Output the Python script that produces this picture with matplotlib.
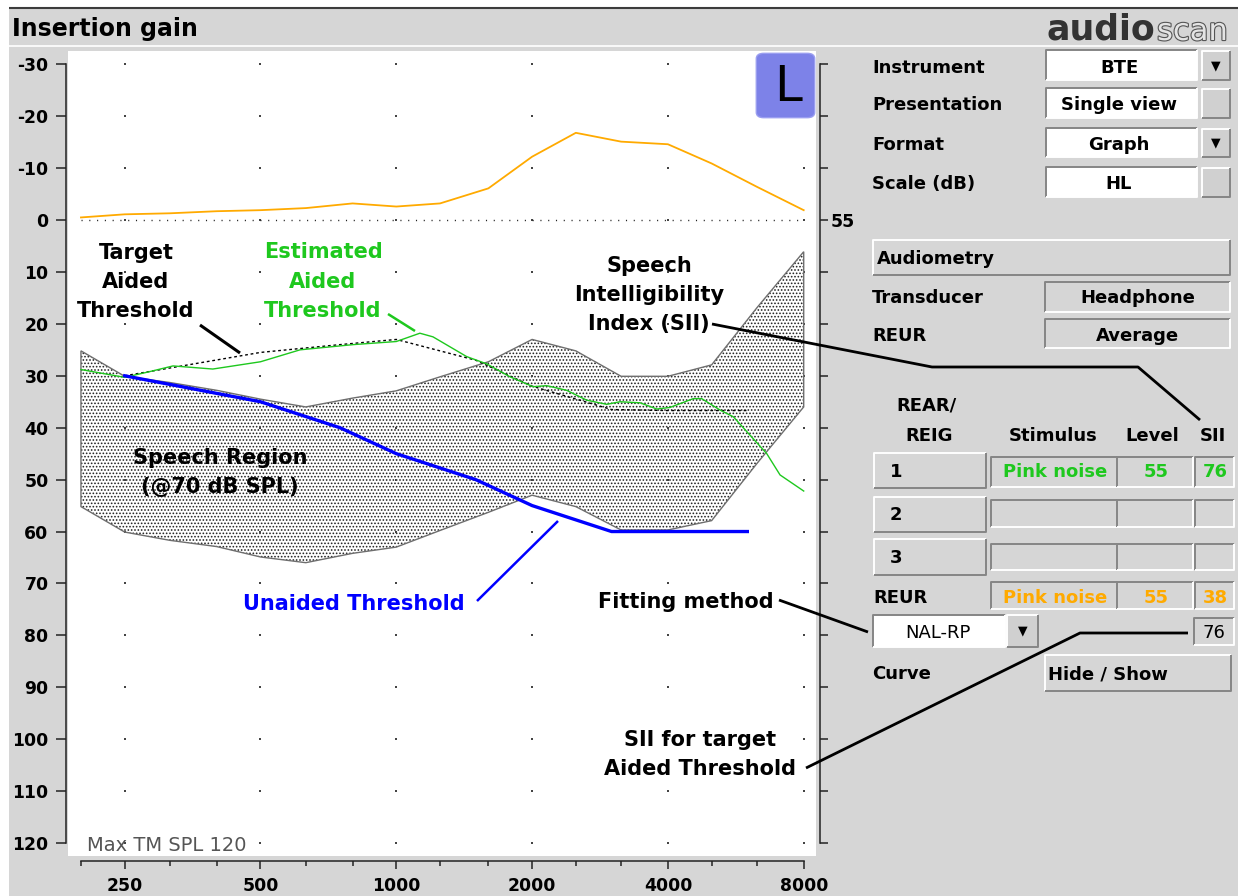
import numpy as np
import matplotlib
matplotlib.use('Agg')
import matplotlib.pyplot as plt
from matplotlib.patches import Rectangle, FancyBboxPatch
from matplotlib.lines import Line2D
from matplotlib.ticker import FixedLocator, FixedFormatter, NullFormatter
import matplotlib.patheffects as pe

plt.rcParams['font.family'] = ['DejaVu Sans']
plt.rcParams['hatch.linewidth'] = 0.75

# ---------------- data ----------------
third_oct_hz = [200, 250, 315, 400, 500, 630, 800, 1000, 1250, 1600, 2000,
                2500, 3150, 4000, 5000, 6300, 8000]
reur_db = [-0.5, -1.1, -1.3, -1.7, -1.9, -2.3, -3.2, -2.6, -3.2, -6.1, -12.2,
           -16.8, -15.1, -14.6, -10.9, -6.4, -1.9]
speech_upper_db = [25.2, 30.1, 31.3, 32.8, 34.5, 36.0, 34.3, 32.9, 30.2, 27.3,
                   23.0, 25.2, 30.1, 30.1, 27.9, 16.9, 6.1]
speech_lower_db = [55.2, 60.1, 61.7, 62.9, 64.9, 66.0, 64.2, 63.0, 59.8, 56.3,
                   53.0, 55.2, 59.7, 59.7, 57.9, 46.9, 36.0]

audiogram_hz = [250, 500, 750, 1000, 1500, 2000, 3000, 4000, 6000]
unaided_db = [30, 35, 40, 45, 50, 55, 60, 60, 60]
target_aided_db = [30, 25.5, 24, 23, 27, 32, 36.5, 36.7, 36.7]

est_hz = [200, 250, 284, 320, 392, 500, 612, 802, 1000, 1128, 1206, 1432, 1586,
          1787, 2010, 2154, 2386, 2643, 2927, 3132, 3470, 3779, 4042, 4553,
          4753, 5220, 5587, 6625, 7090, 8000]
est_db = [28.8, 30.3, 29.2, 28.1, 28.7, 27.3, 25.0, 24.0, 23.4, 21.8, 22.5,
          26.3, 27.7, 30.2, 32.1, 31.9, 32.8, 34.7, 35.5, 35.0, 35.2, 36.4,
          36.1, 34.4, 34.4, 36.6, 37.9, 45.0, 49.1, 52.2]

major_hz = [250, 500, 1000, 2000, 4000, 8000]
major_labels = ['250', '500', '1000', '2000', '4000', '8000']
minor_hz = [200, 315, 400, 630, 800, 1250, 1600, 2500, 3150, 5000, 6300]
db_ticks = list(range(-30, 130, 10))
right_label = {0: '55'}

# ---------------- figure ----------------
W, H = 1238, 896
BG = '#d6d6d6'
fig = plt.figure(figsize=(W / 100, H / 100), dpi=100, facecolor=BG)


def fx(x):
    return x / W


def fy(y):
    return 1 - y / H


def seg(pts, color='black', lw=1.0, z=6, ls='-'):
    xs = [fx(p[0]) for p in pts]
    ys = [fy(p[1]) for p in pts]
    fig.add_artist(Line2D(xs, ys, transform=fig.transFigure, color=color,
                          lw=lw, zorder=z, ls=ls, solid_capstyle='butt'))


def rect(x0, y0, x1, y1, fc, z=1):
    fig.add_artist(Rectangle((fx(x0), fy(y1)), (x1 - x0) / W, (y1 - y0) / H,
                             transform=fig.transFigure, fc=fc, ec='none',
                             zorder=z))


def box(x0, y0, x1, y1, fc, kind='sunken'):
    rect(x0, y0, x1, y1, fc)
    dark, light = '#858585', '#ffffff'
    tl, br = (dark, light) if kind == 'sunken' else (light, dark)
    seg([(x0, y1), (x0, y0), (x1, y0)], tl, 1.4, 2)
    seg([(x1, y0), (x1, y1), (x0, y1)], br, 1.4, 2)


def txt(x, y, s, size=13, weight='bold', color='black', ha='left', **kw):
    fig.text(fx(x), fy(y), s, fontsize=size, fontweight=weight, color=color,
             ha=ha, va='baseline', **kw)


# white margins and title bar
rect(0, 0, W, 8, 'white', z=-2)
rect(0, 0, 9, H, 'white', z=-2)
seg([(9, 8.5), (W, 8.5)], '#3c3c3c', 1.5, -1)
seg([(9, 46), (W, 46)], 'white', 1.2, -1)
txt(12, 36, 'Insertion gain', size=17)

# ---------------- main axes ----------------
ax = fig.add_axes([fx(68), fy(856), (816 - 68) / W, (856 - 51) / H])
ax.set_facecolor('white')
ax.set_xscale('log')
ax.set_xlim(187.2, 8518)
ax.set_ylim(122.5, -32.56)
for s in ['top', 'right']:
    ax.spines[s].set_visible(False)
for s in ['left', 'bottom']:
    ax.spines[s].set_color('#222222')
    ax.spines[s].set_linewidth(1.1)
ax.spines['left'].set_position(('outward', 1.8))
ax.spines['left'].set_bounds(-30, 120)
ax.spines['bottom'].set_position(('outward', 3.6))
ax.spines['bottom'].set_bounds(200, 8000)

ax.yaxis.set_major_locator(FixedLocator(db_ticks))
ax.yaxis.set_major_formatter(FixedFormatter([str(v) for v in db_ticks]))
ax.tick_params(axis='y', direction='out', length=7.2, width=1.1, pad=5,
               labelsize=12.4, color='#222222')
ax.xaxis.set_major_locator(FixedLocator(major_hz))
ax.xaxis.set_major_formatter(FixedFormatter(major_labels))
ax.xaxis.set_minor_locator(FixedLocator(minor_hz))
ax.xaxis.set_minor_formatter(NullFormatter())
ax.tick_params(axis='x', which='major', direction='out', length=5.8, width=1.1,
               pad=5.4, labelsize=12.4, color='#222222')
ax.tick_params(axis='x', which='minor', direction='out', length=3.6, width=1.1,
               color='#222222')
for lab in ax.get_xticklabels() + ax.get_yticklabels():
    lab.set_fontweight('bold')

axr = ax.twinx()
axr.set_ylim(ax.get_ylim())
axr.patch.set_visible(False)
for s in ['top', 'left', 'bottom']:
    axr.spines[s].set_visible(False)
axr.spines['right'].set_position(('outward', 2.9))
axr.spines['right'].set_bounds(-30, 120)
axr.spines['right'].set_color('#222222')
axr.spines['right'].set_linewidth(1.1)
axr.yaxis.set_major_locator(FixedLocator(db_ticks))
axr.yaxis.set_major_formatter(
    FixedFormatter([right_label.get(v, '') for v in db_ticks]))
axr.tick_params(axis='y', direction='out', length=5.8, width=1.1, pad=1.5,
                labelsize=12.4, color='#222222')
for lab in axr.get_yticklabels():
    lab.set_fontweight('bold')

# grid dots
gx, gy = np.meshgrid(major_hz, db_ticks)
ax.scatter(gx.ravel(), gy.ravel(), s=1.0, c='#444444', marker='s', lw=0,
           zorder=1.5)
# dotted 0 dB line
ax.plot([third_oct_hz[0], third_oct_hz[-1]], [0, 0], color='#222222', lw=1.0,
        ls=(0, (0.8, 4.8)), zorder=1.5)

# speech region
poly_x = third_oct_hz + third_oct_hz[::-1]
poly_y = speech_upper_db + speech_lower_db[::-1]
ax.fill(poly_x, poly_y, facecolor='white', edgecolor='#202020', hatch='.....',
        linewidth=0, zorder=1)
ax.fill(poly_x, poly_y, facecolor='none', edgecolor='#6e6e6e', linewidth=1.0,
        zorder=2)

# curves
ax.plot(third_oct_hz, reur_db, color='#ffaa00', lw=1.3, zorder=3)
ax.plot(audiogram_hz, target_aided_db, color='black', lw=1.0,
        ls=(0, (2, 2)), zorder=3)
ax.plot(est_hz, est_db, color='#1ec81e', lw=1.0, zorder=4)
ax.plot(audiogram_hz, unaided_db, color='#0000ff', lw=2.4, zorder=5)

txt(87, 851, 'Max TM SPL 120', size=14, weight='normal', color='#555555')

# L badge
fig.add_artist(FancyBboxPatch((fx(760), fy(115)), 51 / W, 59 / H,
                              boxstyle='round,pad=0.003,rounding_size=0.006',
                              transform=fig.transFigure, fc='#7d82e8',
                              ec='#9a9ef0', lw=1, zorder=4))
txt(774, 101, 'L', size=36, weight='normal', zorder=7)

# ---------------- annotations ----------------
GREEN = '#1ec81e'
ORANGE = '#ffaa00'
for s, b in zip(['Target', 'Aided', 'Threshold'], [259, 288, 317]):
    txt(136, b, s, size=15, ha='center')
for s, b in zip(['Estimated', 'Aided', 'Threshold'], [258, 287.5, 317]):
    txt(323, b, s, size=15, ha='center', color=GREEN)
for s, b in zip(['Speech', 'Intelligibility', 'Index (SII)'], [272, 301, 330]):
    txt(649, b, s, size=15, ha='center')
for s, b in zip(['Speech Region', '(@70 dB SPL)'], [463.5, 493]):
    txt(220, b, s, size=15, ha='center')
txt(354, 610, 'Unaided Threshold', size=15, ha='center', color='#0000ff')
txt(686, 608, 'Fitting method', size=15, ha='center')
for s, b in zip(['SII for target', 'Aided Threshold'], [746, 775]):
    txt(700, b, s, size=15, ha='center')

seg([(200, 325), (240, 353)], 'black', 2.2)
seg([(388, 314), (415, 331)], GREEN, 1.8)
seg([(477, 601), (558, 521)], '#0000ff', 1.8)
seg([(712, 324), (932, 367), (1138, 367), (1200, 420)], 'black', 2.0)
seg([(779, 600), (868, 632)], 'black', 2.0)
seg([(806, 768), (1080, 633), (1188, 633)], 'black', 2.0)

# ---------------- right panel ----------------
txt(1047, 40, 'audio', size=25, color='#333333')
fig.text(fx(1157), fy(40), 'scan', fontsize=22, color='#e4e4e4',
         ha='left', va='baseline',
         path_effects=[pe.withStroke(linewidth=1.6, foreground='#555555')])


def dropdown(x0, y0, x1, y1, arrow=True):
    box(x0, y0, x1, y1, '#d0d0d0', 'raised')
    if arrow:
        fig.text(fx((x0 + x1) / 2), fy((y0 + y1) / 2), '\u25bc', fontsize=9,
                 ha='center', va='center', color='black')


rows = [('Instrument', 'BTE', 50, 80, 72.7, True),
        ('Presentation', 'Single view', 88, 118, 110.5, False),
        ('Format', 'Graph', 128, 157, 150, True),
        ('Scale (dB)', 'HL', 167, 197, 189, False)]
for lab, val, y0, y1, b, arr in rows:
    txt(872, b, lab)
    box(1046, y0, 1197, y1, 'white', 'sunken')
    txt(1119, b, val, ha='center')
    dropdown(1202, y0 + 1, 1230, y1, arr)

box(873, 240, 1230, 275, '#d6d6d6', 'raised')
txt(877, 264, 'Audiometry')
txt(872, 303, 'Transducer')
box(1045, 282, 1230, 312, '#d6d6d6', 'sunken')
txt(1138, 303, 'Headphone', ha='center')
txt(872, 341, 'REUR')
box(1045, 319, 1230, 348, '#d6d6d6', 'sunken')
txt(1137, 341, 'Average', ha='center')

txt(926, 410, 'REAR/', ha='center')
txt(929, 440.7, 'REIG', ha='center')
txt(1053, 440.7, 'Stimulus', ha='center')
txt(1152, 440.7, 'Level', ha='center')
txt(1213, 440.7, 'SII', ha='center')

cell_x = [(991, 1117), (1117, 1193), (1195, 1234)]
table = [('1', (453, 488), (457, 487), 476.7, ['Pink noise', '55', '76'], GREEN),
         ('2', (497, 532), (500, 527), 520, ['', '', ''], GREEN),
         ('3', (539, 575), (544, 570), 563.3, ['', '', ''], GREEN)]
for num, (by0, by1), (cy0, cy1), b, vals, col in table:
    box(874, by0, 986, by1, '#d6d6d6', 'raised')
    txt(890, b, num)
    for (cx0, cx1), v in zip(cell_x, vals):
        box(cx0, cy0, cx1, cy1, '#d6d6d6', 'sunken')
        if v:
            txt((cx0 + cx1) / 2 + 1, b, v, ha='center', color=col)

txt(873, 602.7, 'REUR')
for (cx0, cx1), v in zip(cell_x, ['Pink noise', '55', '38']):
    box(cx0, 582, cx1, 609, '#d6d6d6', 'sunken')
    txt((cx0 + cx1) / 2 + 1, 602.7, v, ha='center', color=ORANGE)

box(873, 615, 1005, 647, 'white', 'sunken')
txt(938, 638.3, 'NAL-RP', weight='normal', ha='center')
dropdown(1007, 615, 1038, 647, True)
box(1194, 618, 1234, 645, '#d6d6d6', 'sunken')
txt(1214, 638.3, '76', weight='normal', ha='center')

txt(872, 679.3, 'Curve')
box(1045, 655, 1231, 691, '#d6d6d6', 'raised')
txt(1048, 679.3, 'Hide / Show')

fig.savefig('out.png', dpi=100, facecolor=BG)
